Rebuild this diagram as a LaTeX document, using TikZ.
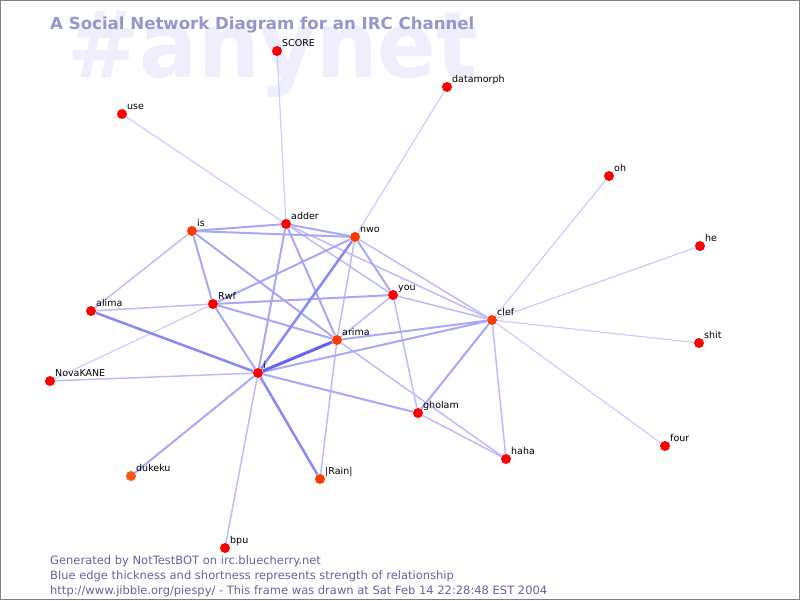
\documentclass[tikz,border=0pt]{standalone}
\usepackage{graphicx}
\usepackage{fontspec}
\setmainfont{DejaVu Sans}
\usetikzlibrary{calc}
\pgfdeclarelayer{bg}\pgfdeclarelayer{edges}\pgfsetlayers{bg,edges,main}
\definecolor{titlec}{RGB}{150,150,205}
\definecolor{footc}{RGB}{100,100,160}
\definecolor{wmc}{RGB}{238,238,253}
\definecolor{nred}{RGB}{255,0,0}
\definecolor{norange}{RGB}{255,60,0}
\definecolor{ndk}{RGB}{255,85,20}
\definecolor{ec0}{RGB}{100,100,240}
\definecolor{ec1}{RGB}{138,138,246}
\definecolor{ec2}{RGB}{168,168,250}
\definecolor{ec3}{RGB}{188,188,253}
\definecolor{ec4}{RGB}{204,204,255}
\definecolor{framec}{RGB}{128,128,128}
\tikzset{
  vtx/.style={circle,fill=nred,inner sep=0pt,minimum size=10pt},
  vtxo/.style={vtx,fill=norange},
  vtxd/.style={vtx,fill=ndk},
  lbl/.style={anchor=base west,inner sep=0pt,font=\fontsize{9.5}{11}\selectfont},
  ez/.style={draw=ec0,line width=3pt},
  ea/.style={draw=ec1,line width=2.5pt},
  eb/.style={draw=ec2,line width=2pt},
  ec/.style={draw=ec3,line width=1.5pt},
  ed/.style={draw=ec4,line width=1.2pt},
  foot/.style={anchor=base west,inner sep=0pt,text=footc,font=\fontsize{11.5}{13}\selectfont}
}
\newcommand\vx[5]{\node[#5] (#1) at (#2,#3) {}; \node[lbl] (#1l) at ($(#1)+(5,-5)$) {#4};}
\begin{document}
\begin{tikzpicture}[x=1pt,y=-1pt]
\useasboundingbox (0,0) rectangle (800,600);
\begin{pgfonlayer}{bg}
\fill[white] (0,0) rectangle (800,600);
\node[anchor=base west,inner sep=0pt,text=wmc,font=\fontsize{92}{100}\selectfont\bfseries] (wm) at (67,77) {\scalebox{0.94}[1]{\#anynet}};
\end{pgfonlayer}
\node[anchor=base west,inner sep=0pt,text=titlec,font=\fontsize{16.6}{20}\selectfont\bfseries] (title) at (50,29) {A Social Network Diagram for an IRC Channel};
% vertices
\vx{SCORE}{277}{51}{SCORE}{vtx}
\vx{datamorph}{447}{87}{datamorph}{vtx}
\vx{use}{122}{114}{use}{vtx}
\vx{adder}{286}{224}{adder}{vtx}
\vx{is}{192}{231}{is}{vtxo}
\vx{nwo}{355}{237}{nwo}{vtxo}
\vx{you}{393}{295}{you}{vtx}
\vx{clef}{492}{320}{clef}{vtxo}
\vx{arima}{337}{340}{arima}{vtxo}
\vx{Rwf}{213}{304}{Rwf}{vtx}
\vx{i}{258}{373}{i}{vtx}
\vx{alima}{91}{311}{alima}{vtx}
\vx{NovaKANE}{50}{381}{NovaKANE}{vtx}
\vx{dukeku}{131}{476}{dukeku}{vtxd}
\vx{rain}{320}{479}{|Rain|}{vtxo}
\vx{bpu}{225}{548}{bpu}{vtx}
\vx{gholam}{418}{413}{gholam}{vtx}
\vx{haha}{506}{459}{haha}{vtx}
\vx{oh}{609}{176}{oh}{vtx}
\vx{he}{700}{246}{he}{vtx}
\vx{shit}{699}{343}{shit}{vtx}
\vx{four}{665}{446}{four}{vtx}
% edges
\begin{pgfonlayer}{edges}
\draw[ed] (SCORE) -- (adder);
\draw[ed] (use) -- (adder);
\draw[ed] (datamorph) -- (nwo);
\draw[ed] (oh) -- (clef);
\draw[ed] (he) -- (clef);
\draw[ed] (shit) -- (clef);
\draw[ed] (four) -- (clef);
\draw[ed] (NovaKANE) -- (Rwf);
\draw[ec] (is) -- (alima);
\draw[ec] (NovaKANE) -- (i);
\draw[ec] (Rwf) -- (alima);
\draw[ec] (i) -- (bpu);
\draw[ec] (arima) -- (rain);
\draw[ec] (nwo) -- (arima);
\draw[ec] (adder) -- (you);
\draw[ec] (adder) -- (clef);
\draw[ec] (nwo) -- (clef);
\draw[ec] (you) -- (clef);
\draw[ec] (you) -- (arima);
\draw[ec] (you) -- (gholam);
\draw[ec] (arima) -- (haha);
\draw[ec] (gholam) -- (haha);
\draw[ec] (clef) -- (haha);
\draw[eb] (i) -- (adder);
\draw[eb] (dukeku) -- (i);
\draw[eb] (i) -- (Rwf);
\draw[eb] (adder) -- (arima);
\draw[eb] (is) -- (Rwf);
\draw[eb] (is) -- (arima);
\draw[eb] (adder) -- (nwo);
\draw[eb] (is) -- (adder);
\draw[eb] (is) -- (nwo);
\draw[eb] (nwo) -- (you);
\draw[eb] (i) -- (gholam);
\draw[eb] (gholam) -- (clef);
\draw[eb] (i) -- (clef);
\draw[eb] (arima) -- (clef);
\draw[eb] (Rwf) -- (you);
\draw[eb] (Rwf) -- (arima);
\draw[eb] (nwo) -- (Rwf);
\draw[ea] (alima) -- (i);
\draw[ea] (i) -- (nwo);
\draw[ea] (i) -- (rain);
\draw[ez] (i) -- (arima);
\end{pgfonlayer}
% footer
\node[foot] (f1) at (50,564) {Generated by NotTestBOT on irc.bluecherry.net};
\node[foot] (f2) at (50,579) {Blue edge thickness and shortness represents strength of relationship};
\node[foot] (f3) at (50,594) {http://www.jibble.org/piespy/ - This frame was drawn at Sat Feb 14 22:28:48 EST 2004};
\draw[framec,line width=1pt] (0.5,0.5) rectangle (799.5,599.5);
\end{tikzpicture}
\end{document}
